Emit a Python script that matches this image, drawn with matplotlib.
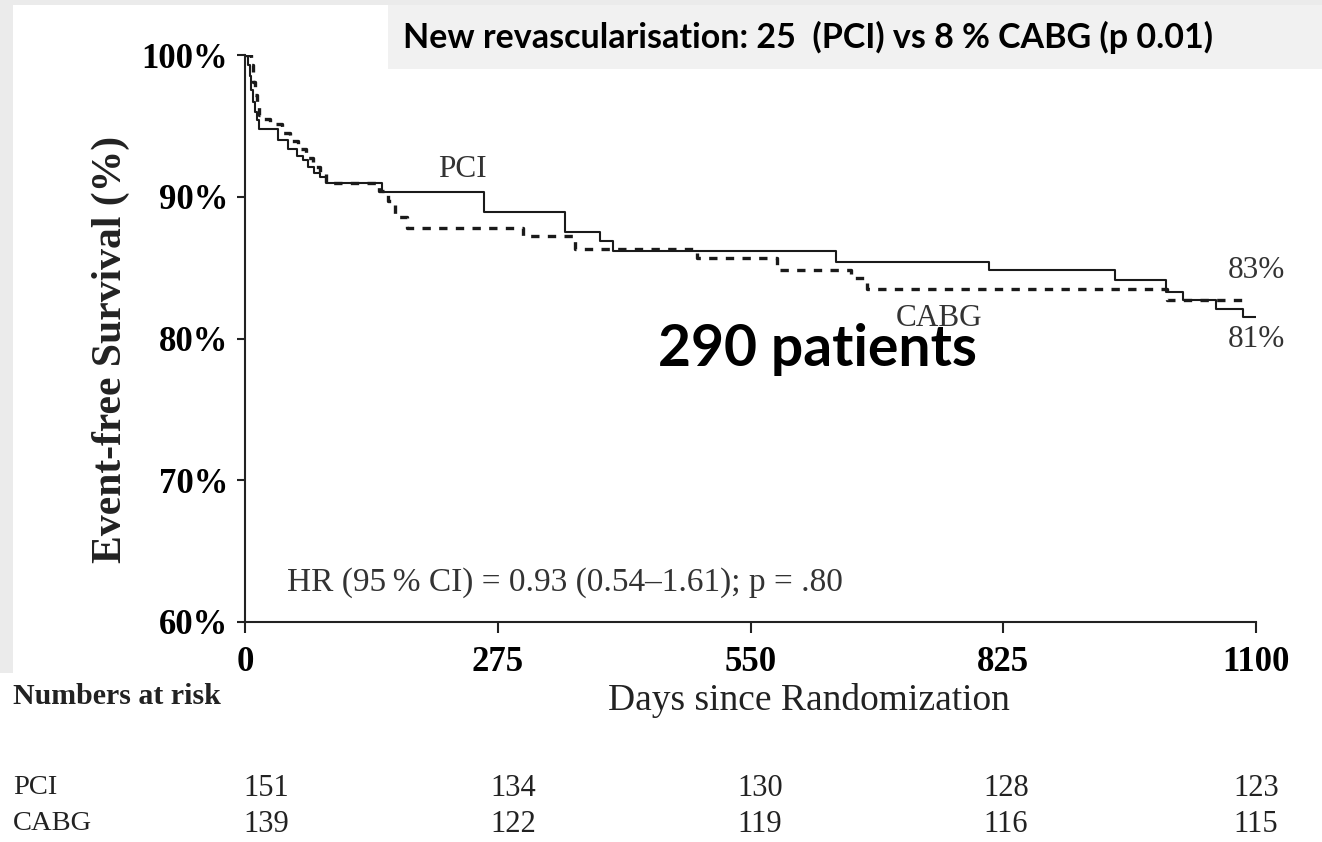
import matplotlib.pyplot as plt
from matplotlib.patches import Rectangle

# Kaplan-Meier style step data: day of each event and survival (%) after it
pci_days = [0, 3, 5, 7, 9, 11, 13, 15, 36, 47, 57, 63, 69, 75, 82, 88,
            149, 260, 348, 386, 400, 643, 810, 947, 1002, 1021, 1057, 1086, 1100]
pci_surv = [100, 99.3, 98.5, 97.5, 96.7, 96.0, 95.4, 94.8, 94.0, 93.4, 92.9, 92.6, 92.1, 91.7, 91.4, 91.0,
            90.3, 88.9, 87.5, 86.9, 86.2, 85.4, 84.8, 84.1, 83.3, 82.7, 82.1, 81.5, 81.5]

cabg_days = [0, 7, 9, 11, 13, 15, 20, 27, 40, 49, 58, 66, 74, 82, 88,
             146, 156, 163, 176, 302, 359, 492, 579, 659, 677, 1003, 1090]
cabg_surv = [100, 99.3, 98.1, 97.2, 96.4, 95.8, 95.5, 95.1, 94.5, 93.9, 93.4, 92.7, 92.1, 91.6, 91.0,
             90.4, 89.7, 88.6, 87.8, 87.2, 86.3, 85.7, 84.8, 84.3, 83.5, 82.7, 82.7]

x_ticks = [0, 275, 550, 825, 1100]
y_ticks = [60, 70, 80, 90, 100]

risk_groups = ['PCI', 'CABG']
risk_pci = [151, 134, 130, 128, 123]
risk_cabg = [139, 122, 119, 116, 115]

title_text = 'New revascularisation: 25  (PCI) vs 8 % CABG (p 0.01)'
hr_text = 'HR (95\u2009% CI) = 0.93 (0.54\u20131.61); p = .80'

serif = ['Liberation Serif', 'DejaVu Serif']
sans = ['Lato', 'DejaVu Sans']
W, H = 1322, 842

fig = plt.figure(figsize=(W / 100, H / 100), dpi=100)
fig.patch.set_facecolor('white')

# grey frame along the top and left edges, and the title box
fig.add_artist(Rectangle((0, 1 - 5 / H), 1, 5 / H, transform=fig.transFigure,
                         facecolor='#ebebeb', edgecolor='none', zorder=0))
fig.add_artist(Rectangle((0, 1 - 673 / H), 13 / W, 673 / H, transform=fig.transFigure,
                         facecolor='#ebebeb', edgecolor='none', zorder=0))
fig.add_artist(Rectangle((388 / W, 1 - 69 / H), 1 - 388 / W, 64 / H, transform=fig.transFigure,
                         facecolor='#f1f1f1', edgecolor='none', zorder=0))
fig.text(403 / W, 1 - 37 / H, title_text, family=sans, weight='bold', fontsize=24.5,
         ha='left', va='center', color='black')

ax = fig.add_axes([245 / W, 1 - 622 / H, (1256 - 245) / W, (622 - 55) / H])
ax.set_facecolor('none')

ax.step(pci_days, pci_surv, where='post', color='#1a1a1a', lw=1.5)
ax.step(cabg_days, cabg_surv, where='post', color='#1a1a1a', lw=2.4,
        linestyle=(0, (2.5, 2.5)))

ax.set_xlim(0, 1100)
ax.set_ylim(60, 100)
ax.set_xticks(x_ticks)
ax.set_xticklabels([str(t) for t in x_ticks], family=serif, weight='bold', fontsize=25)
ax.set_yticks(y_ticks)
ax.set_yticklabels([f'{t}%' for t in y_ticks], family=serif, weight='bold', fontsize=25)
for s in ['top', 'right']:
    ax.spines[s].set_visible(False)
for s in ['left', 'bottom']:
    ax.spines[s].set_linewidth(1.5)
    ax.spines[s].set_color('#222222')
ax.tick_params(axis='x', length=8, width=1.5, pad=9, color='#222222')
ax.tick_params(axis='y', length=6, width=1.5, pad=6, color='#222222')

# labels inside the plot
txt = dict(family=serif, fontsize=22.5, color='#333333')
ax.text(237, 91.9, 'PCI', ha='center', va='center', **txt)
ax.text(755, 81.4, 'CABG', ha='center', va='center', **txt)
ax.text(1069, 84.8, '83%', ha='left', va='center', **txt)
ax.text(1069, 79.9, '81%', ha='left', va='center', **txt)
ax.text(46, 62.8, hr_text, ha='left', va='center', family=serif, fontsize=24,
        color='#333333')
ax.text(623, 79.2, '290 patients', family=sans, weight='bold', fontsize=41,
        ha='center', va='center', color='black')

fig.text(111 / W, 1 - 349 / H, 'Event-free Survival (%)', family=serif, weight='bold',
         fontsize=30, rotation=90, ha='center', va='center', color='#222222')
fig.text(809 / W, 1 - 700 / H, 'Days since Randomization', family=serif, fontsize=27,
         ha='center', va='center', color='#222222')

# numbers at risk table
fig.text(13 / W, 1 - 697 / H, 'Numbers at risk', family=serif, weight='bold', fontsize=21.5,
         ha='left', va='center', color='#222222')
risk_shift = [23, 17, 10, 3, 0]
for row, (grp, vals) in enumerate(zip(risk_groups, [risk_pci, risk_cabg])):
    yy = 1 - (788 + 36 * row) / H
    fig.text(13 / W, yy, grp, family=serif, fontsize=20.5, ha='left', va='center',
             color='#222222')
    for d, v, sh in zip(x_ticks, vals, risk_shift):
        xx = ax.transData.transform((d + sh, 60))[0] / W
        fig.text(xx, yy, str(v), family=serif, fontsize=22, ha='center', va='center',
                 color='#222222')

fig.savefig('out.png', dpi=100)
